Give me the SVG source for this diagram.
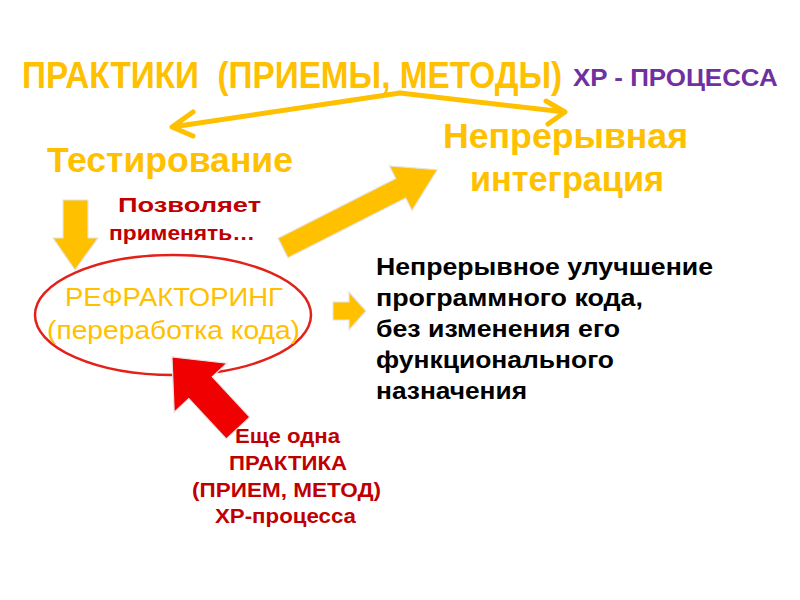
<svg xmlns="http://www.w3.org/2000/svg" width="800" height="600" viewBox="0 0 800 600">
<defs>
<style>
text{font-family:"Liberation Sans",Arial,sans-serif;font-weight:bold}
.or{fill:#FFC000}
.dr{fill:#C00000;font-size:20px}
.bk{fill:#000;font-size:24px}
.ga{fill:#FFC000;stroke:#E4E4E4;stroke-width:1.2}
.dl{fill:none;stroke:#FFC000;stroke-width:5;stroke-linecap:round;stroke-linejoin:round}
</style>
</defs>
<rect width="800" height="600" fill="#fff"/>
<g id="title">
<text xml:space="preserve" transform="translate(22,88) scale(0.86,1)" x="0" y="0" class="or" font-size="37" textLength="628" lengthAdjust="spacingAndGlyphs">ПРАКТИКИ  (ПРИЕМЫ, МЕТОДЫ)</text>
<text transform="translate(573,86) scale(0.86,1)" x="0" y="0" fill="#7030A0" font-size="23" textLength="238" lengthAdjust="spacingAndGlyphs">XP - ПРОЦЕССА</text>
</g>
<g id="testing"><text x="47" y="172" class="or" font-size="35" textLength="246" lengthAdjust="spacingAndGlyphs">Тестирование</text></g>
<g id="integration">
<text x="443" y="148" class="or" font-size="35" textLength="245" lengthAdjust="spacingAndGlyphs">Непрерывная</text>
<text x="470" y="191" class="or" font-size="35" textLength="194" lengthAdjust="spacingAndGlyphs">интеграция</text>
</g>
<g id="refactoring">
<ellipse cx="173" cy="315" rx="138" ry="60" fill="none" stroke="#E3211B" stroke-width="2.5"/>
<text x="65" y="306" fill="#FFC000" font-size="25" style="font-weight:normal" textLength="218" lengthAdjust="spacingAndGlyphs">РЕФРАКТОРИНГ</text>
<text x="47" y="339" fill="#FFC000" font-size="25" style="font-weight:normal" textLength="253" lengthAdjust="spacingAndGlyphs">(переработка кода)</text>
</g>
<g id="allows">
<text x="118" y="212" class="dr" textLength="143" lengthAdjust="spacingAndGlyphs">Позволяет</text>
<text x="109" y="240" class="dr" textLength="146" lengthAdjust="spacingAndGlyphs">применять…</text>
</g>
<g id="description">
<text x="376" y="275" class="bk" textLength="337" lengthAdjust="spacingAndGlyphs">Непрерывное улучшение</text>
<text x="376" y="306" class="bk" textLength="267" lengthAdjust="spacingAndGlyphs">программного кода,</text>
<text x="376" y="337" class="bk" textLength="244" lengthAdjust="spacingAndGlyphs">без изменения его</text>
<text x="376" y="368" class="bk" textLength="238" lengthAdjust="spacingAndGlyphs">функционального</text>
<text x="376" y="399" class="bk" textLength="151" lengthAdjust="spacingAndGlyphs">назначения</text>
</g>
<g id="another-practice">
<text x="235" y="443" class="dr" textLength="105" lengthAdjust="spacingAndGlyphs">Еще одна</text>
<text x="229" y="470" class="dr" textLength="118" lengthAdjust="spacingAndGlyphs">ПРАКТИКА</text>
<text x="192" y="497" class="dr" textLength="189" lengthAdjust="spacingAndGlyphs">(ПРИЕМ, МЕТОД)</text>
<text x="215" y="523" class="dr" textLength="141" lengthAdjust="spacingAndGlyphs">XP-процесса</text>
</g>
<g id="connectors">
<path class="dl" d="M400,93 L172,127 M193,112 L172,127 L193,136"/>
<path class="dl" d="M400,93 L565,112 M546,101 L565,112 L548,124"/>
<path class="ga" d="M63,200 L88,200 L88,238 L98,238 L75,270 L53,238 L63,238 Z"/>
<path class="ga" transform="translate(283,248) rotate(-26.9)" d="M0,-11 L132,-11 L132,-25 L173,0 L132,25 L132,11 L0,11 Z"/>
<path class="ga" d="M333,302 L349,302 L349,292 L366,311 L349,330 L349,320 L333,320 Z"/>
<path fill="#F00000" stroke="#E4E4E4" stroke-width="1.2" transform="translate(238,428) rotate(-132.9)" d="M0,-16 L55,-16 L55,-36 L97,0 L55,36 L55,16 L0,16 Z"/>
</g>
</svg>
